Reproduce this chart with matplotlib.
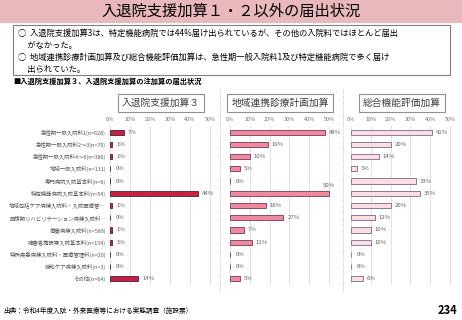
import matplotlib.pyplot as plt
from matplotlib.patches import Rectangle

plt.rcParams['font.family'] = ['Noto Sans CJK JP', 'DejaVu Sans']

categories = [
    '急性期一般入院料1(n=628)',
    '急性期一般入院料2～3(n=70)',
    '急性期一般入院料4～6(n=386)',
    '地域一般入院料(n=131)',
    '専門病院入院基本料(n=6)',
    '特定機能病院入院基本料(n=54)',
    '地域包括ケア病棟入院料・入院医療管…',
    '回復期リハビリテーション病棟入院料…',
    '療養病棟入院料(n=589)',
    '障害者施設等入院基本料(n=154)',
    '特殊疾患病棟入院料・医療管理料(n=20)',
    '緩和ケア病棟入院料(n=3)',
    'その他(n=64)',
]
panel_titles = ['入退院支援加算３', '地域連携診療計画加算', '総合機能評価加算']
support3 = [7, 1, 1, 0, 0, 44, 1, 0, 1, 1, 0, 0, 14]
regional = [48, 19, 10, 5, 0, 50, 18, 27, 7, 11, 0, 0, 5]
geriatric = [41, 20, 14, 3, 33, 35, 20, 12, 10, 10, 0, 0, 6]
series = [support3, regional, geriatric]
ticks = [0, 10, 20, 30, 40, 50]

faces = ['#c8203f', '#ee8a9e', '#fbdde3']
edges = ['#5a3050', '#8a4a68', '#8a7a9a']

W, H = 462, 320
fig = plt.figure(figsize=(W / 100, H / 100), dpi=100)

def fx(x):
    return x / W

def fy(y):
    return 1 - y / H

# title band
fig.patches.append(Rectangle((0, fy(23)), 1, 23 / H, transform=fig.transFigure,
                             facecolor='#e9b8bc', edgecolor='none'))
fig.text(0.5, fy(11.5), '入退院支援加算１・２以外の届出状況', ha='center', va='center',
         fontsize=11)

# summary box
fig.patches.append(Rectangle((fx(13), fy(75)), fx(437), 50 / H, transform=fig.transFigure,
                             facecolor='white', edgecolor='#808080', linewidth=0.8))
lines = ['○  入退院支援加算3は、特定機能病院では44%届け出られているが、その他の入院料ではほとんど届出',
         '     がなかった。',
         '○  地域連携診療計画加算及び総合機能評価加算は、急性期一般入院料1及び特定機能病院で多く届け',
         '     出られていた。']
for i, t in enumerate(lines):
    fig.text(fx(18), fy(33 + i * 12.3), t, ha='left', va='center', fontsize=5.95)

fig.text(fx(13), fy(81), '■入退院支援加算３、入退院支援加算の注加算の届出状況', ha='left',
         va='center', fontsize=5.2, fontweight='bold')

lefts = [110, 230, 351]
scale = [2.0, 1.98, 1.98]
title_x = [161, 280, 402]
xmax = 54
top, bottom = 126, 285
n = len(categories)

for k in range(3):
    width = xmax * scale[k]
    ax = fig.add_axes([fx(lefts[k]), fy(bottom), width / W, (bottom - top) / H])
    vals = series[k]
    ax.barh(range(n), vals, height=0.42, color=faces[k], edgecolor=edges[k], linewidth=0.7)
    ax.set_xlim(0, xmax)
    ax.set_ylim(n - 0.5, -0.5)
    ax.set_xticks(ticks)
    ax.set_xticklabels([f'{t}%' for t in ticks], fontsize=4, color='#707070')
    ax.xaxis.tick_top()
    ax.tick_params(axis='x', length=0, pad=3)
    ax.grid(axis='x', color='#dcdcdc', linewidth=0.6)
    ax.set_axisbelow(True)
    for s in ax.spines.values():
        s.set_visible(False)
    if k == 0:
        ax.set_yticks(range(n))
        ax.set_yticklabels(categories, fontsize=3.9, color='#555555')
        ax.tick_params(axis='y', length=0, pad=3)
    else:
        ax.set_yticks([])
    for i, v in enumerate(vals):
        if v >= 50:
            ax.text(v, i - 0.45, f'{v}%', ha='center', va='bottom', fontsize=4.3, color='#606060')
        else:
            ax.text(v + (2 if v > 0 else 3), i, f'{v}%', ha='left', va='center',
                    fontsize=4.3, color='#606060')
    fig.text(fx(title_x[k]), fy(103), panel_titles[k], ha='center', va='center', fontsize=7,
             color='#404040',
             bbox=dict(boxstyle='square,pad=0.45', facecolor='white', edgecolor='#909090',
                       linewidth=0.8))

# dotted separators
for x in [220, 343]:
    fig.lines.append(plt.Line2D([fx(x), fx(x)], [fy(291), fy(88)], transform=fig.transFigure,
                                color='#b0b0b0', linewidth=0.6, linestyle=':'))

fig.text(fx(3), fy(311), '出典：令和4年度入院・外来医療等における実態調査（施設票）', ha='left',
         va='center', fontsize=4.8)
fig.text(fx(457), fy(310), '234', ha='right', va='center', fontsize=8, fontweight='bold')

fig.savefig('out.png', dpi=100)
